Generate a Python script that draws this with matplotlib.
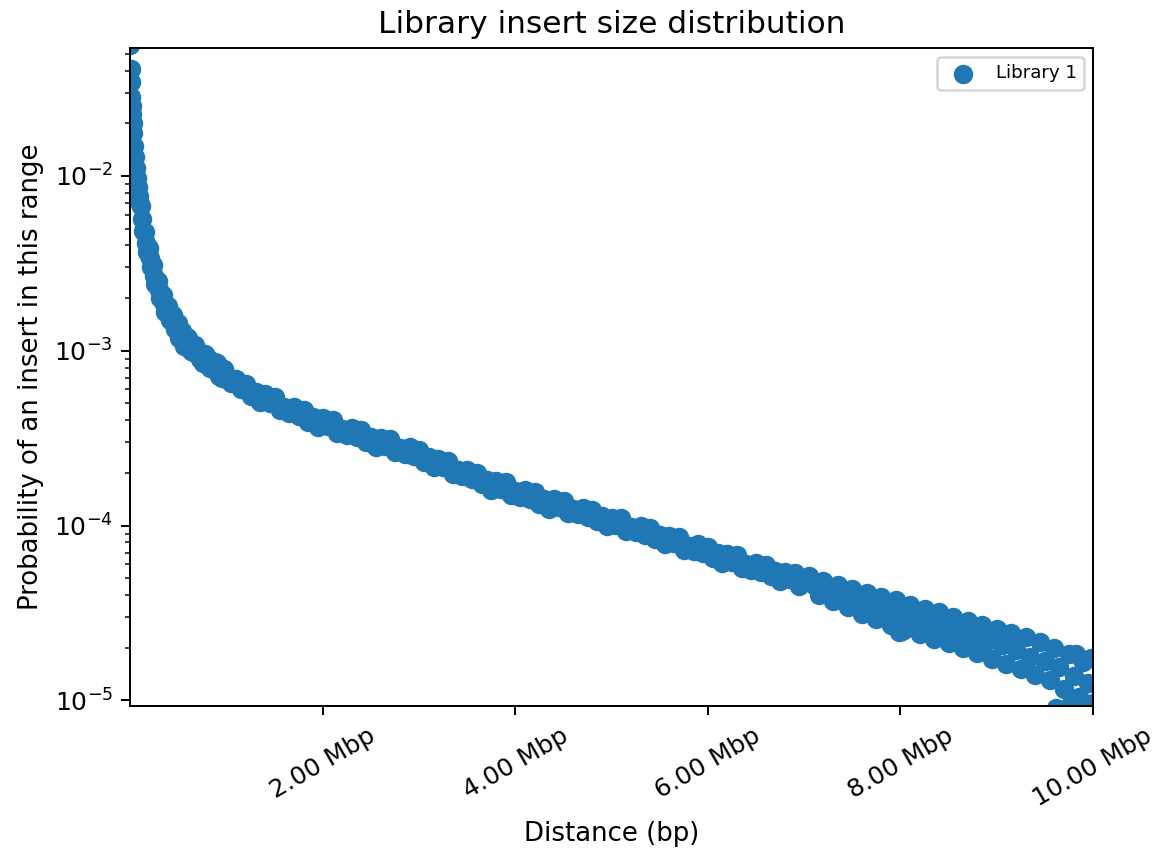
import matplotlib
matplotlib.use("Agg")
import matplotlib.pyplot as plt
import numpy as np

# distances (Mbp) and probabilities
dist_mbp = [
    0.000, 0.003, 0.006, 0.010, 0.015, 0.020, 0.025, 0.030, 0.040, 0.050,
    0.060, 0.070, 0.080, 0.090, 0.100, 0.120, 0.140, 0.160, 0.180, 0.200,
    0.225, 0.250, 0.275, 0.300, 0.325, 0.350, 0.375, 0.400, 0.425, 0.450,
    0.475, 0.500, 0.525, 0.550, 0.575,
    0.60, 0.65, 0.70, 0.75, 0.80, 0.85, 0.90, 0.95, 1.00, 1.05,
    1.10, 1.15, 1.20, 1.25, 1.30, 1.35, 1.40, 1.45, 1.50, 1.55,
    1.60, 1.65, 1.70, 1.75, 1.80, 1.85, 1.90, 1.95, 2.00, 2.05,
    2.10, 2.15, 2.20, 2.25, 2.30, 2.35, 2.40, 2.45, 2.50, 2.55,
    2.60, 2.65, 2.70, 2.75, 2.80, 2.85, 2.90, 2.95, 3.00, 3.05,
    3.10, 3.15, 3.20, 3.25, 3.30, 3.35, 3.40, 3.45, 3.50, 3.55,
    3.60, 3.65, 3.70, 3.75, 3.80, 3.85, 3.90, 3.95, 4.00, 4.05,
    4.10, 4.15, 4.20, 4.25, 4.30, 4.35, 4.40, 4.45, 4.50, 4.55,
    4.60, 4.65, 4.70, 4.75, 4.80, 4.85, 4.90, 4.95, 5.00, 5.05,
    5.10, 5.15, 5.20, 5.25, 5.30, 5.35, 5.40, 5.45, 5.50, 5.55,
    5.60, 5.65, 5.70, 5.75, 5.80, 5.85, 5.90, 5.95, 6.00, 6.05,
    6.10, 6.15, 6.20, 6.25, 6.30, 6.35, 6.40, 6.45, 6.50, 6.55,
    6.60, 6.65, 6.70, 6.75, 6.80, 6.85, 6.90, 6.95, 7.00, 7.05,
    7.10, 7.15, 7.20, 7.25, 7.30, 7.35, 7.40, 7.45, 7.50, 7.55,
    7.60, 7.65, 7.70, 7.75, 7.80, 7.85, 7.90, 7.95, 8.00, 8.05,
    8.10, 8.15, 8.20, 8.25, 8.30, 8.35, 8.40, 8.45, 8.50, 8.55,
    8.60, 8.65, 8.70, 8.75, 8.80, 8.85, 8.90, 8.95, 9.00, 9.05,
    9.10, 9.15, 9.20, 9.25, 9.30, 9.35, 9.40, 9.45, 9.50, 9.55,
    9.60, 9.65, 9.70, 9.75, 9.80, 9.85, 9.90, 9.95, 10.00,
    7.98, 8.02, 9.62, 9.68, 9.78, 9.82, 9.98,
    0.110, 0.130, 0.150, 0.170, 0.190, 0.210, 0.240, 0.260, 0.290, 0.310,
    0.340, 0.360, 0.390, 0.410, 0.440, 0.460, 0.490, 0.510, 0.540, 0.560,
    0.590, 0.625, 0.675, 0.725, 0.775, 0.825, 0.875, 0.925, 0.975,
]

prob = [
    5.6e-2, 4.1e-2, 3.45e-2, 2.83e-2, 2.5e-2, 2.27e-2, 2.0e-2, 1.76e-2, 1.48e-2, 1.28e-2,
    1.11e-2, 9.7e-3, 8.6e-3, 7.65e-3, 6.88e-3, 5.68e-3, 4.75e-3, 4.14e-3, 3.75e-3, 3.39e-3,
    3.08e-3, 2.69e-3, 2.50e-3, 2.23e-3, 2.06e-3, 1.85e-3, 1.78e-3, 1.63e-3, 1.52e-3, 1.46e-3,
    1.35e-3, 1.30e-3, 1.26e-3, 1.17e-3, 1.10e-3,
    1.18e-3, 9.78e-4, 1.00e-3, 8.51e-4, 9.21e-4, 8.05e-4, 8.50e-4, 6.96e-4, 7.14e-4, 6.50e-4,
    6.93e-4, 6.02e-4, 6.49e-4, 5.53e-4, 5.81e-4, 5.08e-4, 5.62e-4, 5.02e-4, 5.44e-4, 4.56e-4,
    4.76e-4, 4.40e-4, 4.78e-4, 4.21e-4, 4.59e-4, 3.93e-4, 4.17e-4, 3.68e-4, 4.11e-4, 3.71e-4,
    4.03e-4, 3.39e-4, 3.57e-4, 3.31e-4, 3.60e-4, 3.21e-4, 3.50e-4, 3.02e-4, 3.20e-4, 2.83e-4,
    3.17e-4, 2.86e-4, 3.13e-4, 2.64e-4, 2.78e-4, 2.58e-4, 2.81e-4, 2.49e-4, 2.70e-4, 2.31e-4,
    2.45e-4, 2.16e-4, 2.40e-4, 2.17e-4, 2.35e-4, 1.98e-4, 2.08e-4, 1.92e-4, 2.09e-4, 1.84e-4,
    2.00e-4, 1.72e-4, 1.82e-4, 1.60e-4, 1.79e-4, 1.62e-4, 1.77e-4, 1.49e-4, 1.57e-4, 1.46e-4,
    1.60e-4, 1.42e-4, 1.55e-4, 1.33e-4, 1.42e-4, 1.25e-4, 1.41e-4, 1.27e-4, 1.39e-4, 1.18e-4,
    1.24e-4, 1.16e-4, 1.26e-4, 1.12e-4, 1.23e-4, 1.06e-4, 1.13e-4, 1.00e-4, 1.11e-4, 1.01e-4,
    1.10e-4, 9.30e-5, 9.80e-5, 9.12e-5, 9.96e-5, 8.83e-5, 9.66e-5, 8.32e-5, 8.84e-5, 7.82e-5,
    8.74e-5, 7.92e-5, 8.64e-5, 7.28e-5, 7.67e-5, 7.14e-5, 7.81e-5, 6.92e-5, 7.56e-5, 6.51e-5,
    6.93e-5, 6.12e-5, 6.85e-5, 6.19e-5, 6.76e-5, 5.70e-5, 6.01e-5, 5.60e-5, 6.13e-5, 5.44e-5,
    5.95e-5, 5.13e-5, 5.47e-5, 4.83e-5, 5.41e-5, 4.91e-5, 5.36e-5, 4.52e-5, 4.76e-5, 5.13e-5,
    4.55e-5, 4.01e-5, 4.83e-5, 4.21e-5, 3.69e-5, 4.54e-5, 4.00e-5, 3.41e-5, 4.32e-5, 3.67e-5,
    3.13e-5, 4.13e-5, 3.49e-5, 2.91e-5, 3.92e-5, 3.22e-5, 2.70e-5, 3.73e-5, 3.13e-5, 2.55e-5,
    3.52e-5, 2.89e-5, 2.41e-5, 3.34e-5, 2.76e-5, 2.24e-5, 3.18e-5, 2.63e-5, 2.12e-5, 3.00e-5,
    2.43e-5, 1.98e-5, 2.86e-5, 2.31e-5, 1.86e-5, 2.70e-5, 2.17e-5, 1.73e-5, 2.56e-5, 2.07e-5,
    1.62e-5, 2.42e-5, 1.95e-5, 1.51e-5, 2.29e-5, 1.78e-5, 1.39e-5, 2.15e-5, 1.68e-5, 1.30e-5,
    2.00e-5, 1.56e-5, 1.16e-5, 1.83e-5, 1.38e-5, 1.05e-5, 1.65e-5, 1.26e-5, 9.7e-6,
    2.45e-5, 2.5e-5, 9.0e-6, 8.8e-6, 1.0e-5, 1.85e-5, 1.75e-5,
    6.75e-3, 4.84e-3, 4.78e-3, 3.66e-3, 3.85e-3, 3.02e-3, 3.08e-3, 2.41e-3, 2.51e-3, 2.00e-3,
    2.07e-3, 1.67e-3, 1.80e-3, 1.49e-3, 1.61e-3, 1.33e-3, 1.44e-3, 1.18e-3, 1.30e-3, 1.07e-3,
    1.20e-3, 9.95e-4, 1.08e-3, 8.95e-4, 9.63e-4, 7.93e-4, 8.65e-4, 7.13e-4, 7.82e-4,
]

tick_mbp = [2, 4, 6, 8, 10]
tick_labels = ["%.2f Mbp" % t for t in tick_mbp]

fig, ax = plt.subplots(figsize=(1164 / 180, 856 / 180), dpi=180)
fig.subplots_adjust(left=0.112, right=0.939, top=0.944, bottom=0.175)

x = np.array(dist_mbp) * 1e6
ax.scatter(x, prob, s=46, color="#1f77b4", label="Library 1")

ax.set_yscale("log")
ax.set_xlim(0, 1e7)
ax.set_ylim(9.25e-6, 5.4e-2)
ax.set_xticks([t * 1e6 for t in tick_mbp])
ax.set_xticklabels(tick_labels, rotation=30)

ax.set_title("Library insert size distribution", fontsize=12.5)
ax.set_xlabel("Distance (bp)", fontsize=10.4)
ax.set_ylabel("Probability of an insert in this range", fontsize=10.4)
ax.legend(loc="upper right", fontsize=7.3)

fig.savefig("out.png", dpi=180)
